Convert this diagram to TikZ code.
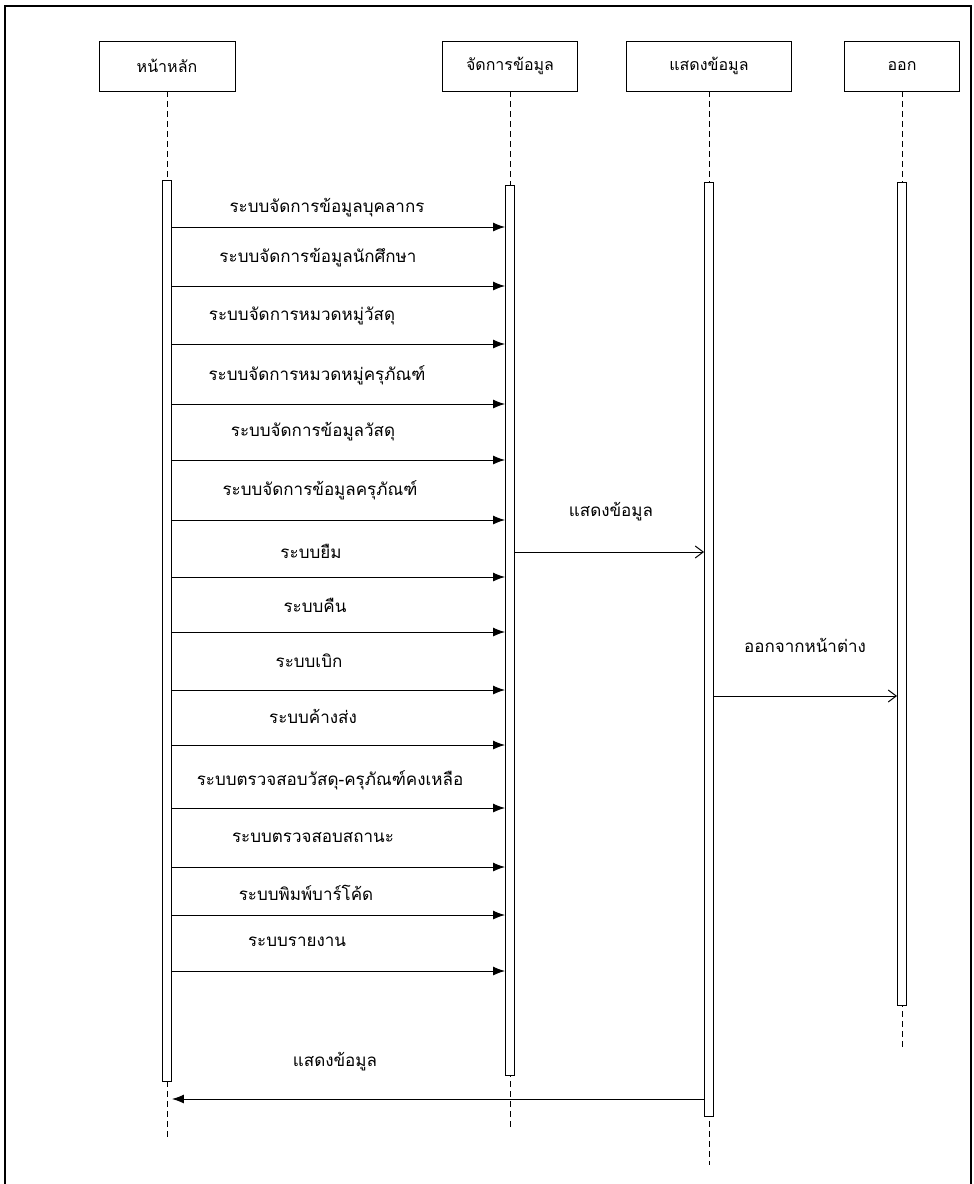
\documentclass[tikz,border=0pt]{standalone}
\usepackage{fontspec}
\newfontfamily\thaifont[Script=Thai]{Loma}
\usetikzlibrary{positioning}
\usetikzlibrary{arrows.meta}
\tikzset{
    headbox/.style = {rectangle, line width=0.9pt, draw=black, minimum height=50pt, align=center, inner sep=0pt, font=\thaifont\fontsize{16}{19}\selectfont},
    actbar/.style = {rectangle, line width=0.9pt, draw=black, fill=white, minimum width=9pt, inner sep=0pt, anchor=north},
    lifeline/.style = {-, line width=0.8pt, black, dash pattern=on 6pt off 4pt},
    msgcall/.style = {-{Latex[length=12pt,width=9pt]}, line width=1pt, black},
    msgopen/.style = {-{Straight Barb[length=8pt,width=12pt]}, line width=1pt, black},
    msglabel/.style = {inner sep=0pt, font=\thaifont\fontsize{17}{20}\selectfont},
    frameline/.style = {-, line width=1.6pt, black}
}

\begin{document}
\begin{tikzpicture}[x=1pt, y=-1pt]
  \useasboundingbox (0,0) rectangle (974,1184);
  % frame
  \draw[frameline] (5,1184) -- (5,6) -- (971,6) -- (971,1184);

  % lifeline heads
  \node[headbox, minimum width=136pt] (main) at (167,66) {หน้าหลัก};
  \node[headbox, minimum width=135pt] (data) at (510,66) {จัดการข้อมูล};
  \node[headbox, minimum width=165pt] (show) at (709,66) {แสดงข้อมูล};
  \node[headbox, minimum width=115pt] (quit) at (902,66) {ออก};

  % dashed lifelines
  \coordinate (endmain) at (167,1140);
  \coordinate (enddata) at (510,1127);
  \coordinate (endshow) at (709,1165);
  \coordinate (endquit) at (902,1050);
  \draw[lifeline] (main.south) -- (endmain);
  \draw[lifeline] (data.south) -- (enddata);
  \draw[lifeline] (show.south) -- (endshow);
  \draw[lifeline] (quit.south) -- (endquit);

  % activation bars
  \node[actbar, minimum height=901pt] (barmain) at (167,180) {};
  \node[actbar, minimum height=890pt] (bardata) at (510,185) {};
  \node[actbar, minimum height=934pt] (barshow) at (709,182) {};
  \node[actbar, minimum height=823pt] (barquit) at (902,182) {};

  % calls from the main page
  \coordinate (m1) at (0,227);
  \node[msglabel] (t1) at (327,208) {ระบบจัดการข้อมูลบุคลากร};
  \draw[msgcall] (barmain.east |- m1) -- (bardata.west |- m1);

  \coordinate (m2) at (0,286);
  \node[msglabel] (t2) at (318,258) {ระบบจัดการข้อมูลนักศึกษา};
  \draw[msgcall] (barmain.east |- m2) -- (bardata.west |- m2);

  \coordinate (m3) at (0,344);
  \node[msglabel] (t3) at (302,316) {ระบบจัดการหมวดหมู่วัสดุ};
  \draw[msgcall] (barmain.east |- m3) -- (bardata.west |- m3);

  \coordinate (m4) at (0,404);
  \node[msglabel] (t4) at (317,375) {ระบบจัดการหมวดหมู่ครุภัณฑ์};
  \draw[msgcall] (barmain.east |- m4) -- (bardata.west |- m4);

  \coordinate (m5) at (0,460);
  \node[msglabel] (t5) at (313,432) {ระบบจัดการข้อมูลวัสดุ};
  \draw[msgcall] (barmain.east |- m5) -- (bardata.west |- m5);

  \coordinate (m6) at (0,520);
  \node[msglabel] (t6) at (320,490) {ระบบจัดการข้อมูลครุภัณฑ์};
  \draw[msgcall] (barmain.east |- m6) -- (bardata.west |- m6);

  \coordinate (m7) at (0,577);
  \node[msglabel] (t7) at (311,551) {ระบบยืม};
  \draw[msgcall] (barmain.east |- m7) -- (bardata.west |- m7);

  \coordinate (m8) at (0,632);
  \node[msglabel] (t8) at (315,605) {ระบบคืน};
  \draw[msgcall] (barmain.east |- m8) -- (bardata.west |- m8);

  \coordinate (m9) at (0,690);
  \node[msglabel] (t9) at (309,661) {ระบบเบิก};
  \draw[msgcall] (barmain.east |- m9) -- (bardata.west |- m9);

  \coordinate (m10) at (0,745);
  \node[msglabel] (t10) at (313,716) {ระบบค้างส่ง};
  \draw[msgcall] (barmain.east |- m10) -- (bardata.west |- m10);

  \coordinate (m11) at (0,808);
  \node[msglabel] (t11) at (330,780) {ระบบตรวจสอบวัสดุ-ครุภัณฑ์คงเหลือ};
  \draw[msgcall] (barmain.east |- m11) -- (bardata.west |- m11);

  \coordinate (m12) at (0,867);
  \node[msglabel] (t12) at (313,838) {ระบบตรวจสอบสถานะ};
  \draw[msgcall] (barmain.east |- m12) -- (bardata.west |- m12);

  \coordinate (m13) at (0,915);
  \node[msglabel] (t13) at (306,893) {ระบบพิมพ์บาร์โค้ด};
  \draw[msgcall] (barmain.east |- m13) -- (bardata.west |- m13);

  \coordinate (m14) at (0,971);
  \node[msglabel] (t14) at (297,942) {ระบบรายงาน};
  \draw[msgcall] (barmain.east |- m14) -- (bardata.west |- m14);

  % show and quit
  \coordinate (m15) at (0,552);
  \node[msglabel] (t15) at (611,512) {แสดงข้อมูล};
  \draw[msgopen] (bardata.east |- m15) -- (barshow.west |- m15);

  \coordinate (m16) at (0,696);
  \node[msglabel] (t16) at (805,645) {ออกจากหน้าต่าง};
  \draw[msgopen] (barshow.east |- m16) -- (barquit.west |- m16);

  % return to the main page
  \coordinate (m17) at (0,1099);
  \node[msglabel] (t17) at (335,1062) {แสดงข้อมูล};
  \draw[msgcall] (barshow.west |- m17) -- (barmain.east |- m17);
\end{tikzpicture}
\end{document}
